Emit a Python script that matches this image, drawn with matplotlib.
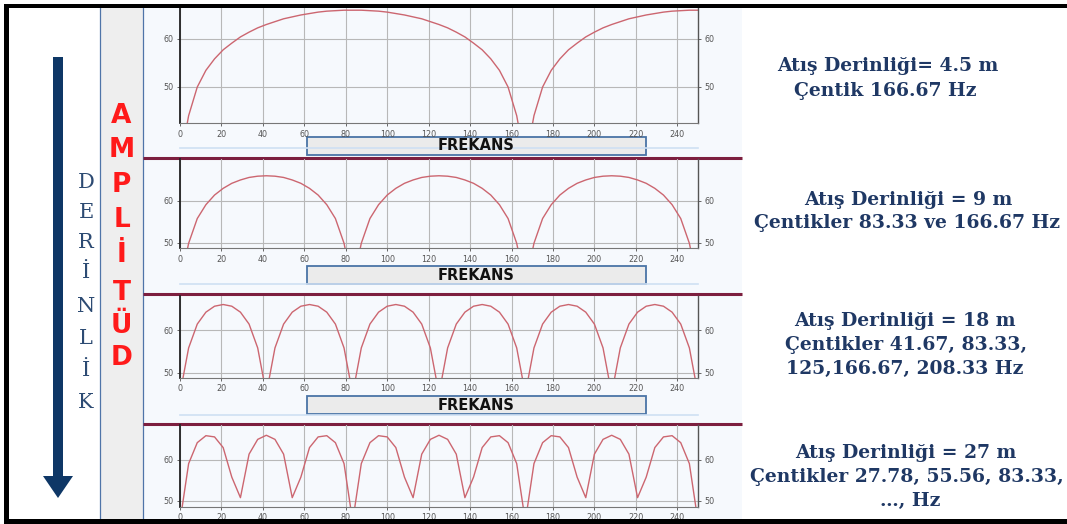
"""Ghost-notch amplitude spectra for four shot depths (slide recreation)."""
import numpy as np
import matplotlib.pyplot as plt
from matplotlib.patches import Rectangle, Polygon

plt.rcParams["font.family"] = "DejaVu Sans"

# ---- data ------------------------------------------------------------------
FREQ = np.linspace(0, 250, 61)          # Hz, sample grid of the spectra

AMP_45M = [34.0, 43.9, 49.9, 53.4, 55.8, 57.7, 59.1, 60.4, 61.4, 62.3, 63.0,
           63.6, 64.2, 64.6, 65.0, 65.3, 65.6, 65.8, 65.9, 66.0, 66.0,
           66.0, 65.9, 65.8, 65.6, 65.3, 65.0, 64.6, 64.2, 63.6, 63.0,
           62.3, 61.4, 60.4, 59.1, 57.7, 55.8, 53.4, 49.9, 43.9, 34.0,
           43.9, 49.9, 53.4, 55.8, 57.7, 59.1, 60.4, 61.4, 62.3, 63.0,
           63.6, 64.2, 64.6, 65.0, 65.3, 65.6, 65.8, 65.9, 66.0, 66.0]

AMP_9M = [40.0, 49.9, 55.8, 59.1, 61.4, 63.0, 64.2, 65.0, 65.6, 65.9, 66.0,
          65.9, 65.6, 65.0, 64.2, 63.0, 61.4, 59.1, 55.8, 49.9, 40.0,
          49.9, 55.8, 59.1, 61.4, 63.0, 64.2, 65.0, 65.6, 65.9, 66.0,
          65.9, 65.6, 65.0, 64.2, 63.0, 61.4, 59.1, 55.8, 49.9, 40.0,
          49.9, 55.8, 59.1, 61.4, 63.0, 64.2, 65.0, 65.6, 65.9, 66.0,
          65.9, 65.6, 65.0, 64.2, 63.0, 61.4, 59.1, 55.8, 49.9, 40.0]

AMP_18M = [45.0, 55.8, 61.4, 64.2, 65.6, 66.0, 65.6, 64.2, 61.4, 55.8, 45.0,
           55.8, 61.4, 64.2, 65.6, 66.0, 65.6, 64.2, 61.4, 55.8, 45.0,
           55.8, 61.4, 64.2, 65.6, 66.0, 65.6, 64.2, 61.4, 55.8, 45.0,
           55.8, 61.4, 64.2, 65.6, 66.0, 65.6, 64.2, 61.4, 55.8, 45.0,
           55.8, 61.4, 64.2, 65.6, 66.0, 65.6, 64.2, 61.4, 55.8, 45.0,
           55.8, 61.4, 64.2, 65.6, 66.0, 65.6, 64.2, 61.4, 55.8, 45.0]

AMP_27M = [45.0, 59.1, 64.2, 65.9, 65.6, 63.0, 55.8, 50.8, 61.4, 65.0, 66.0,
           65.0, 61.4, 50.8, 55.8, 63.0, 65.6, 65.9, 64.2, 59.1, 45.0,
           59.1, 64.2, 65.9, 65.6, 63.0, 55.8, 50.8, 61.4, 65.0, 66.0,
           65.0, 61.4, 50.8, 55.8, 63.0, 65.6, 65.9, 64.2, 59.1, 45.0,
           59.1, 64.2, 65.9, 65.6, 63.0, 55.8, 50.8, 61.4, 65.0, 66.0,
           65.0, 61.4, 50.8, 55.8, 63.0, 65.6, 65.9, 64.2, 59.1, 45.0]

X_TICKS = list(range(0, 241, 20))
Y_TICKS = [50, 60]
AXIS_LABEL = "FREKANS"
DEPTH_WORD = "DERİNLİK"
AMP_WORD = "AMPLİTÜD"

NOTES = [
    ["Atış Derinliği= 4.5 m", "Çentik 166.67 Hz"],
    ["Atış Derinliği = 9 m", "Çentikler 83.33 ve 166.67 Hz"],
    ["Atış Derinliği = 18 m", "Çentikler 41.67, 83.33,", "125,166.67, 208.33 Hz"],
    ["Atış Derinliği = 27 m", "Çentikler 27.78, 55.56, 83.33,", "…, Hz"],
]

# ---- layout (pixels, origin top-left) --------------------------------------
W, H = 1067, 524
NAVY = "#0e3766"
TXT_NAVY = "#1f3864"
SEP_RED = "#7d1f3f"
CURVE = "#cc6670"

fig = plt.figure(figsize=(W / 100, H / 100), dpi=100)
fig.patch.set_facecolor("white")

bg = fig.add_axes([0, 0, 1, 1])
bg.set_xlim(0, W); bg.set_ylim(H, 0); bg.axis("off")

# plot area and amplitude column
bg.add_patch(Rectangle((143, 0), 599, H, fc="#f6f9fd", ec="none"))
bg.add_patch(Rectangle((100, 0), 43, H, fc="#eeeeee", ec="none"))
for x in (100, 143):
    bg.plot([x, x], [0, H], color="#4f74a8", lw=0.9)

# depth arrow
bg.add_patch(Rectangle((52.5, 57), 10, 420, fc=NAVY, ec="none"))
bg.add_patch(Polygon([(43, 476), (73, 476), (58, 498)], closed=True, fc=NAVY, ec="none"))

for ch, y in zip(DEPTH_WORD, [180, 210, 240, 271, 304, 337, 369, 401]):
    bg.text(86, y + 7.5, ch, ha="center", va="baseline", fontsize=15,
            family="DejaVu Serif", color="#2d4b73")

for ch, y in zip(AMP_WORD, [113, 147, 182, 217, 252, 290, 323, 355]):
    bg.text(121.5, y + 10, ch, ha="center", va="baseline", fontsize=19,
            weight="bold", color="#ff1a1a")

# separators, faint rules and FREKANS boxes
for y in (157.5, 293.5, 423.5):
    bg.plot([143, 742], [y, y], color=SEP_RED, lw=2.2, solid_capstyle="butt")
for y in (148, 284, 415):
    bg.plot([180, 698], [y, y], color="#cfe0f3", lw=1.2)
for y in (137, 266, 396):
    bg.add_patch(Rectangle((307, y), 339, 17.5, fc="#ebebeb", ec="#4a74a6", lw=1.3))
    bg.text(476.5, y + 9, AXIS_LABEL, ha="center", va="center", fontsize=10.5,
            weight="bold", color="#111111")

# right-hand notes
note_pos = [
    [(888, 65), (885, 90)],
    [(908, 199), (907, 222)],
    [(905, 320), (906, 344), (905, 368)],
    [(906, 452), (907, 476), (910, 500)],
]
for lines, pos in zip(NOTES, note_pos):
    for s, (x, y) in zip(lines, pos):
        bg.text(x, y + 6, s, ha="center", va="baseline", fontsize=13.5,
                family="DejaVu Serif", weight="bold", color=TXT_NAVY)

# ---- spectra panels ---------------------------------------------------------
series = [AMP_45M, AMP_9M, AMP_18M, AMP_27M]
boxes = [(4, 123.3), (159, 248.3), (296, 377.7), (425, 506.7)]
ylims = [(42.3, 67.3), (48.7, 70.0), (48.8, 68.0), (48.6, 68.5)]
X0, X1 = 180, 698

for vals, (top, bot), yl in zip(series, boxes, ylims):
    ax = fig.add_axes([X0 / W, 1 - bot / H, (X1 - X0) / W, (bot - top) / H])
    ax.set_facecolor("none")
    ax.plot(FREQ, vals, color=CURVE, lw=1.0)
    ax.set_xlim(0, 250); ax.set_ylim(*yl)
    ax.set_xticks(X_TICKS); ax.set_yticks(Y_TICKS)
    ax.grid(True, color="#b8b8b8", lw=0.8)
    ax.set_axisbelow(True)
    ax.spines["top"].set_visible(False)
    ax.spines["left"].set_color("#222222"); ax.spines["left"].set_linewidth(1.3)
    ax.spines["right"].set_color("#555555"); ax.spines["right"].set_linewidth(1.0)
    ax.spines["bottom"].set_color("#777777"); ax.spines["bottom"].set_linewidth(0.8)
    ax.tick_params(which="both", direction="out", length=2.5, width=0.7, pad=2,
                   color="#666666", labelcolor="#555555", labelsize=5.8,
                   right=True, labelright=True)

# ---- outer black frame (drawn on top) ---------------------------------------
ov = fig.add_axes([0, 0, 1, 1], zorder=10)
ov.set_xlim(0, W); ov.set_ylim(H, 0); ov.axis("off")
ov.patch.set_alpha(0)
ov.add_patch(Rectangle((0, 0), W, 3.5, fc="white", ec="none"))
ov.add_patch(Rectangle((4, 3.5), W, 4.5, fc="black", ec="none"))
ov.add_patch(Rectangle((4, 3.5), 5, 517, fc="black", ec="none"))
ov.add_patch(Rectangle((4, 518.5), W, 6, fc="black", ec="none"))

fig.savefig("out.png", dpi=100, facecolor="white")
